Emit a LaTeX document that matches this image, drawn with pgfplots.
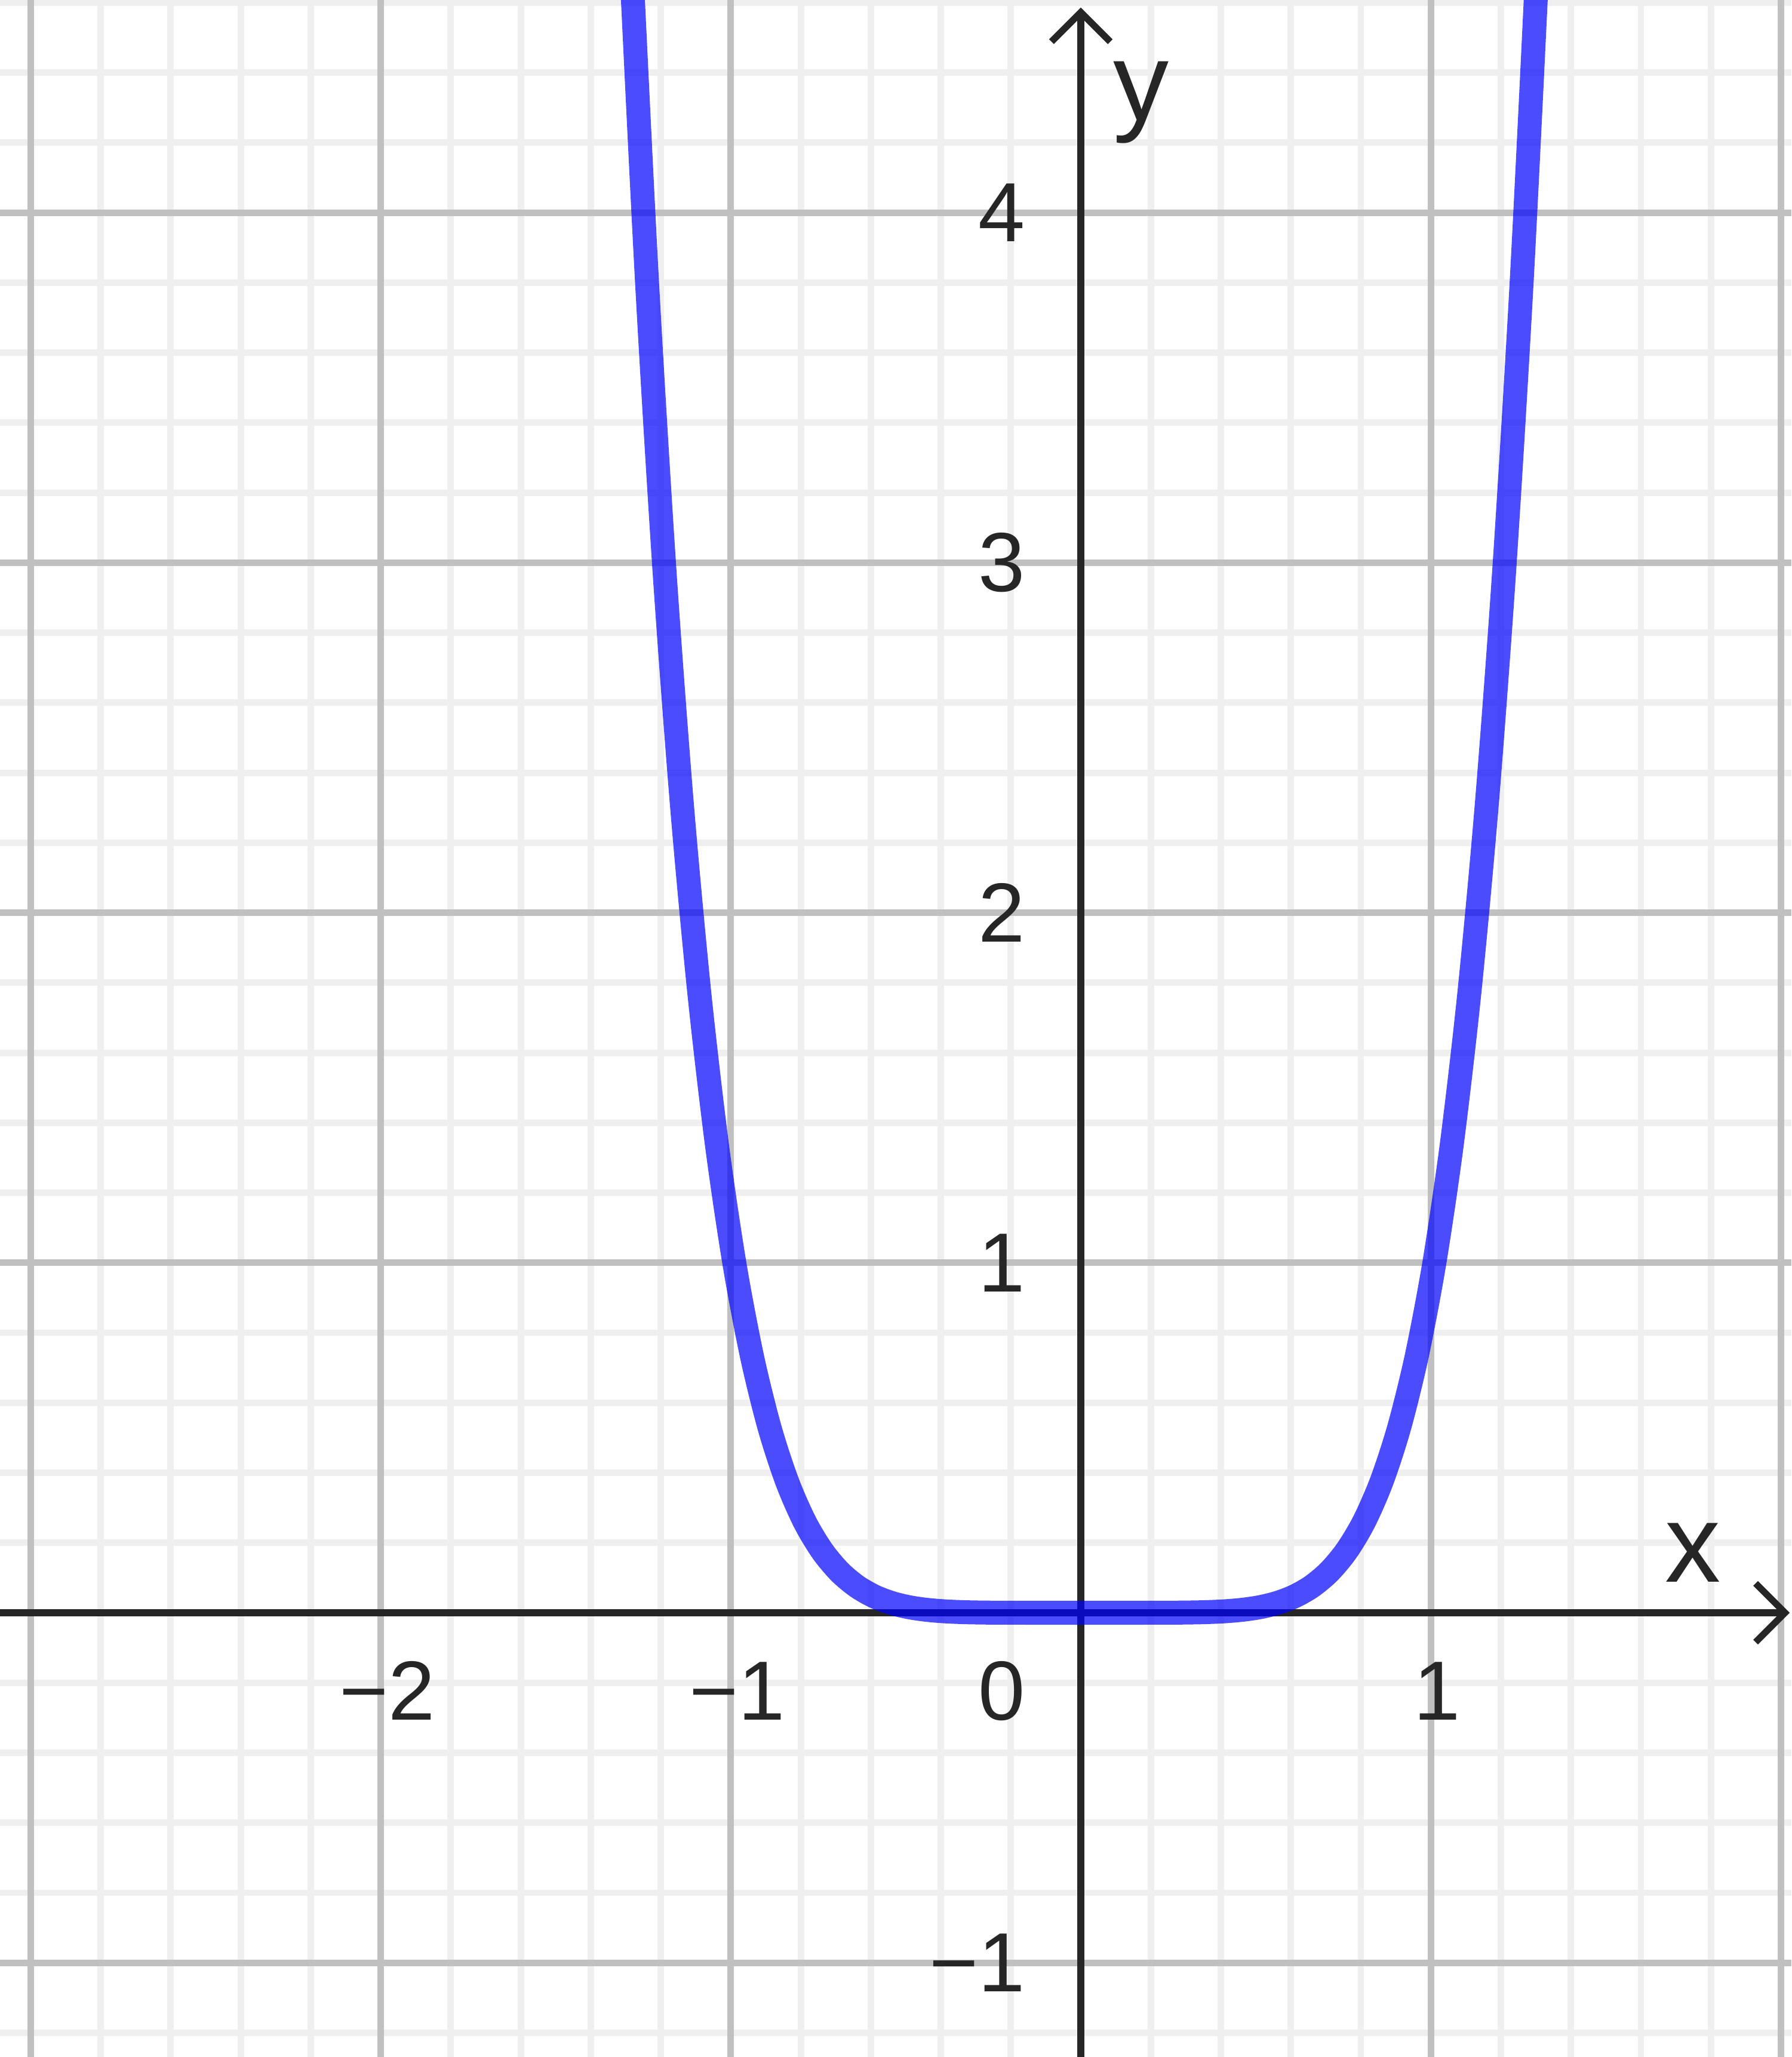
\documentclass[border=0pt]{standalone}
\usepackage{fontspec}
\setmainfont{Liberation Sans}
\usepackage{pgfplots}
\pgfplotsset{compat=1.18}
\usetikzlibrary{arrows.meta}

\definecolor{axisdark}{HTML}{262626}
\definecolor{gridmajor}{HTML}{C0C0C0}
\definecolor{gridminor}{HTML}{EFEFEF}

\begin{document}
\begin{tikzpicture}
  \begin{axis}[
    set layers,
    scale only axis,
    width=15cm, height=17.225cm,
    xmin=-3.0877, xmax=2.0300,
    ymin=-1.2692, ymax=4.6076,
    axis lines=middle,
    axis line style={axisdark, line width=1.6pt},
    x axis line style={-{Straight Barb[length=7pt,width=14pt]}, shorten >=0.4pt},
    y axis line style={-{Straight Barb[length=7pt,width=14pt]}, shorten >=1.8pt},
    % light grid every 0.2 first, the darker unit grid on top of it
    xtick={-2.8,-2.6,-2.4,-2.2,-1.8,-1.6,-1.4,-1.2,-0.8,-0.6,-0.4,-0.2,
           0.2,0.4,0.6,0.8,1.2,1.4,1.6,1.8},
    ytick={-1.2,-0.8,-0.6,-0.4,-0.2,0.2,0.4,0.6,0.8,1.2,1.4,1.6,1.8,
           2.2,2.4,2.6,2.8,3.2,3.4,3.6,3.8,4.2,4.4,4.6},
    xticklabels={}, yticklabels={},
    grid=major,
    major grid style={gridminor, line width=1.55pt},
    extra x ticks={-3,-2,-1,1,2},
    extra x tick labels={,−2,−1,1,},
    extra y ticks={-1,1,2,3,4},
    extra y tick labels={−1,1,2,3,4},
    extra tick style={grid=major, major grid style={gridmajor, line width=1.55pt}},
    major tick length=0pt,
    minor tick length=0pt,
    ticklabel style={font=\fontsize{20}{24}\selectfont, text=axisdark},
    xticklabel style={anchor=center, inner sep=0pt, yshift=-18.6pt, xshift=1.5pt},
    yticklabel style={anchor=east, inner sep=0pt, xshift=-13.1pt},
  ]

  \coordinate (sw) at (rel axis cs:0,0);
  \coordinate (ne) at (rel axis cs:1,1);

  % y = x^6 (vertex a hair right of the y axis)
  \addplot[blue, opacity=0.7, line width=5.7pt, smooth, line join=round] coordinates {
    (-1.31, 5.2899) (-1.29, 4.8268) (-1.24, 3.8147) (-1.19, 2.9860)
    (-1.14, 2.3131) (-1.09, 1.7716) (-1.04, 1.3401) (-0.99, 1.0000)
    (-0.94, 0.7351) (-0.89, 0.5314) (-0.84, 0.3772) (-0.79, 0.2621)
    (-0.74, 0.1780) (-0.69, 0.1176) (-0.64, 0.0754) (-0.59, 0.0467)
    (-0.54, 0.0277) (-0.49, 0.0156) (-0.44, 0.0083) (-0.39, 0.0041)
    (-0.34, 0.0018) (-0.29, 0.0007) (-0.24, 0.0002) (-0.19, 0.0001)
    (-0.14, 0.0000) (-0.09, 0.0000) (-0.04, 0.0000) (0.01, 0.0000)
    (0.06, 0.0000) (0.11, 0.0000) (0.16, 0.0000) (0.21, 0.0001)
    (0.26, 0.0002) (0.31, 0.0007) (0.36, 0.0018) (0.41, 0.0041)
    (0.46, 0.0083) (0.51, 0.0156) (0.56, 0.0277) (0.61, 0.0467)
    (0.66, 0.0754) (0.71, 0.1176) (0.76, 0.1780) (0.81, 0.2621)
    (0.86, 0.3772) (0.91, 0.5314) (0.96, 0.7351) (1.01, 1.0000)
    (1.06, 1.3401) (1.11, 1.7716) (1.16, 2.3131) (1.21, 2.9860)
    (1.26, 3.8147) (1.31, 4.8268) (1.33, 5.2899)
  };

  \node[anchor=east, inner sep=0pt, xshift=-13.1pt, yshift=-18.6pt,
        font=\fontsize{20}{24}\selectfont, text=axisdark] at (axis cs:0,0) {0};
  \node[anchor=center, inner sep=0pt, font=\fontsize{26.5}{30}\selectfont,
        text=axisdark] at (axis cs:1.749,0.172) {x};
  \node[anchor=north, inner sep=0pt, font=\fontsize{26.5}{30}\selectfont,
        text=axisdark] at (axis cs:0.172,4.434) {y};
  \end{axis}
  \pgfresetboundingbox
  \path (sw) rectangle (ne);
\end{tikzpicture}
\end{document}
